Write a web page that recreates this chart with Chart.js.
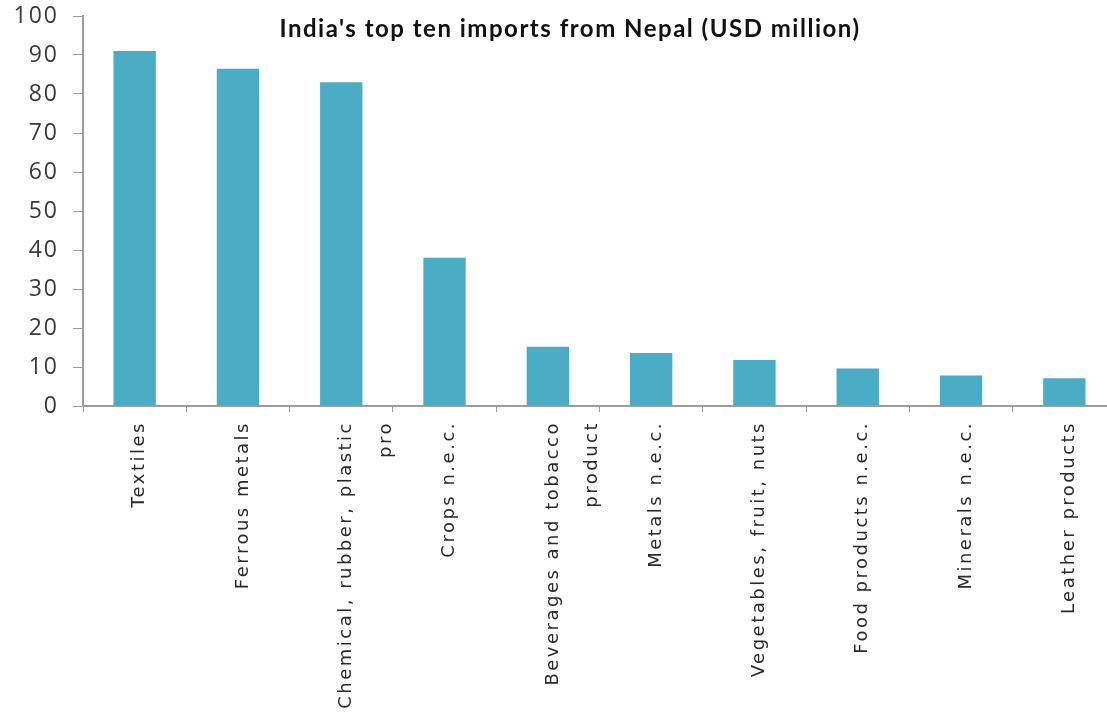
<!DOCTYPE html>
<html>
<head>
<meta charset="utf-8">
<script src="https://cdn.jsdelivr.net/npm/chart.js@4/dist/chart.umd.min.js"></script>
<style>
    html, body { margin: 0; padding: 0; background: #fff; overflow: hidden; }
    #wrap { width: 1120px; height: 723px; }
</style>
</head>
<body>
<div id="wrap"><canvas id="importChart"></canvas></div>
<script>
const categories = [
    'Textiles',
    'Ferrous metals',
    ['Chemical, rubber, plastic', 'pro'],
    'Crops n.e.c.',
    ['Beverages and tobacco', 'product'],
    'Metals n.e.c.',
    'Vegetables, fruit, nuts',
    'Food products n.e.c.',
    'Minerals n.e.c.',
    'Leather products'
];
const importValues = [91, 86.5, 83, 38, 15.2, 13.6, 11.8, 9.6, 7.8, 7.1];
const chartTitle = "India's top ten imports from Nepal (USD million)";

const axisGray = '#9c9c9c';

// title sits inside the plot area, like the original
const titleInside = {
    id: 'titleInside',
    afterDraw(chart) {
        const ctx = chart.ctx;
        ctx.save();
        ctx.font = 'bold 24px Lato';
        ctx.letterSpacing = '1.5px';
        ctx.fillStyle = '#111';
        ctx.textAlign = 'center';
        ctx.textBaseline = 'middle';
        ctx.fillText(chartTitle, 570, 29);
        ctx.restore();
    }
};

// the original image is stretched sideways, so tick text gets extra spacing
const spacedLabels = {
    id: 'spacedLabels',
    afterLayout(chart) {
        const spacing = { x: '2.5px', y: '2px' };
        Object.keys(spacing).forEach(id => {
            const scale = chart.scales[id];
            if (scale._spaced) return;
            const orig = scale.drawLabels;
            scale.drawLabels = function (area) {
                const prev = this.ctx.letterSpacing;
                this.ctx.letterSpacing = spacing[id];
                orig.call(this, area);
                this.ctx.letterSpacing = prev;
            };
            scale._spaced = true;
        });
    }
};

function ImportChart() {
    const ctx = document.getElementById('importChart').getContext('2d');

    const data = {
        labels: categories,
        datasets: [
            {
                label: 'Imports',
                data: importValues,
                backgroundColor: '#4bacc6',
                categoryPercentage: 1,
                barPercentage: 0.41
            }
        ]
    };

    const options = {
        responsive: true,
        maintainAspectRatio: false,
        animation: false,
        layout: {
            padding: { top: 16, right: 4, left: 0, bottom: 0 }
        },
        plugins: {
            legend: { display: false },
            title: { display: false },
            tooltip: { enabled: false }
        },
        scales: {
            y: {
                min: 0,
                max: 100,
                ticks: {
                    stepSize: 10,
                    padding: 14,
                    color: '#3a3a3a',
                    font: { family: 'Open Sans', size: 23 }
                },
                grid: {
                    drawOnChartArea: false,
                    tickLength: 10,
                    color: axisGray
                },
                border: { color: axisGray, width: 2 },
                afterFit(scale) {
                    scale.width = 83;
                    scale.paddingTop = 0;
                    scale.paddingBottom = 0;
                }
            },
            x: {
                ticks: {
                    minRotation: 90,
                    maxRotation: 90,
                    autoSkip: false,
                    padding: 9,
                    labelOffset: 5,
                    color: '#2a2a2a',
                    font: { family: 'DejaVu Sans', size: 18, lineHeight: 2.2 }
                },
                grid: {
                    drawOnChartArea: false,
                    offset: true,
                    tickLength: 6,
                    color: axisGray
                },
                border: { color: axisGray, width: 2 },
                afterFit(scale) { scale.height = 317; }
            }
        }
    };

    const config = {
        type: 'bar',
        data: data,
        options: options,
        plugins: [titleInside, spacedLabels]
    };

    new Chart(ctx, config);
}

ImportChart();
</script>
</body>
</html>
